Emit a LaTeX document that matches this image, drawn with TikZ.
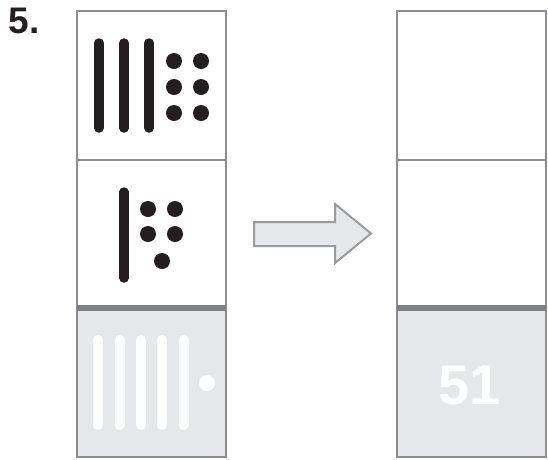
\documentclass[tikz,border=0pt]{standalone}
\usepackage{fontspec}
\setmainfont{Liberation Sans}
\definecolor{frame}{HTML}{8D8E90}
\definecolor{thickline}{HTML}{7F8083}
\definecolor{cellfill}{HTML}{E6E7E8}
\definecolor{ink}{HTML}{231F20}
\definecolor{arrowline}{HTML}{9A9B9D}
\tikzset{
  cellbox/.style={draw=frame, line width=2.2pt},
  sep/.style={draw=thickline, line width=6pt},
  bar/.style={line width=9.5pt, line cap=round},
  dotmark/.style={circle, inner sep=0pt, minimum size=16pt},
}
\begin{document}
\begin{tikzpicture}[x=1pt,y=-1pt]
\useasboundingbox (0,0) rectangle (548,459);
% label
\node[anchor=north west, inner sep=0pt, font=\bfseries\fontsize{37}{40}\selectfont, text=ink] (lab) at (8.5,8) {5.};
% left column
\fill[cellfill] (77,308) rectangle (226,457);
\draw[cellbox] (77,11) rectangle (226,457);
\draw[cellbox] (77,160) -- (226,160);
\draw[sep] (77,308) -- (226,308);
% right column
\fill[cellfill] (397,308) rectangle (546,457);
\draw[cellbox] (397,11) rectangle (546,457);
\draw[cellbox] (397,160) -- (546,160);
\draw[sep] (397,308) -- (546,308);
% top cell: 3 bars, 6 dots
\foreach \x in {99,124,149} \draw[bar, ink] (\x,43) -- (\x,128);
\foreach \x in {174,201} \foreach \y in {61,87,113} \node[dotmark, fill=ink] at (\x,\y) {};
% middle cell: 1 bar, 5 dots
\draw[bar, ink] (124,192) -- (124,278);
\foreach \x in {148,175} \foreach \y in {209,234} \node[dotmark, fill=ink] at (\x,\y) {};
\node[dotmark, fill=ink] at (162,261) {};
% bottom cell: 5 white bars, 1 dot
\foreach \x in {98,119.5,141,162,183.5} \draw[bar, white, line width=10pt] (\x,340) -- (\x,425);
\node[dotmark, fill=white] at (207,383) {};
% arrow
\draw[draw=arrowline, fill=cellfill, line width=2pt, line join=miter]
  (254,222) -- (335,222) -- (335,204) -- (371,233.5) -- (335,263) -- (335,246) -- (254,246) -- cycle;
% answer
\node[font=\bfseries\fontsize{56}{60}\selectfont, text=white, inner sep=0pt] (ans) at (470,385) {51};
\end{tikzpicture}
\end{document}
